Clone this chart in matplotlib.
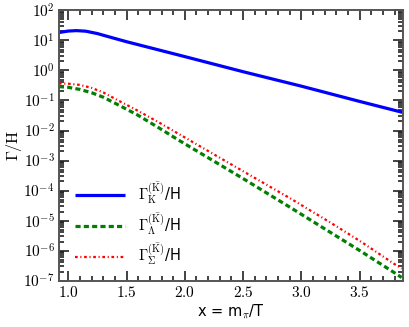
import numpy as np
import matplotlib.pyplot as plt
from matplotlib.ticker import MultipleLocator, LogLocator, FuncFormatter, NullFormatter

plt.rcParams["mathtext.fontset"] = "cm"
plt.rcParams["font.family"] = "DejaVu Sans"

# decay rates over Hubble rate
x_k = [0.92, 1.0, 1.07, 1.15, 1.25, 1.35, 1.5, 2.0, 2.5, 3.0, 3.5, 3.87]
gam_k = [18.4, 20.6, 21.3, 20.4, 17.0, 13.2, 9.1, 2.9, 0.91, 0.30, 0.093, 0.040]

x_hyp = [0.92, 1.0, 1.1, 1.2, 1.3, 1.44, 1.6, 1.786, 1.95, 2.25, 2.5, 2.9, 3.25, 3.5, 3.8, 3.86]
gam_lam = [0.29, 0.275, 0.234, 0.182, 0.129, 0.068, 0.032, 0.0117, 0.0047, 9.5e-4,
           2.5e-4, 2.8e-5, 4.0e-6, 1.0e-6, 1.8e-7, 1.26e-7]
gam_sig = [0.37, 0.363, 0.331, 0.263, 0.186, 0.095, 0.045, 0.0178, 0.0076, 1.6e-3,
           4.4e-4, 5.6e-5, 8.5e-6, 2.1e-6, 3.5e-7, 2.5e-7]

fig = plt.figure(figsize=(4.09, 3.27), dpi=100)
ax = fig.add_axes([0.144, 0.142, 0.841, 0.826])

ax.plot(x_k, gam_k, color="#0000ff", lw=2.3, solid_capstyle="butt",
        label=r"$\Gamma_{\rm K}^{(\bar{\rm K})}$/H")
ax.plot(x_hyp, gam_lam, color="#008000", lw=2.3, linestyle=(0, (1.6, 1.0)),
        label=r"$\Gamma_{\Lambda}^{(\bar{\rm K})}$/H")
ax.plot(x_hyp, gam_sig, color="#ff0000", lw=1.6, linestyle=(0, (1.2, 1.2, 0.5, 1.2)),
        label=r"$\Gamma_{\Sigma}^{(\bar{\rm K})}$/H")

ax.set_yscale("log")
ax.set_xlim(0.92, 3.87)
ax.set_ylim(1e-7, 1e2)

ax.xaxis.set_major_locator(MultipleLocator(0.5))
ax.xaxis.set_minor_locator(MultipleLocator(0.1))
ax.xaxis.set_major_formatter(FuncFormatter(lambda v, p: r"$\mathrm{%.1f}$" % v))
ax.yaxis.set_major_locator(LogLocator(base=10, numticks=20))
ax.yaxis.set_minor_locator(LogLocator(base=10, subs=np.arange(2, 10), numticks=20))
ax.yaxis.set_major_formatter(FuncFormatter(lambda v, p: r"$\mathrm{10}^{%d}$" % round(np.log10(v))))
ax.yaxis.set_minor_formatter(NullFormatter())

ax.tick_params(which="both", direction="in", top=True, right=True, width=1.2, color="#222222")
ax.tick_params(which="major", length=7, labelsize=11, pad=3)
ax.tick_params(which="minor", length=3.5)
for s in ax.spines.values():
    s.set_linewidth(1.4)
    s.set_color("#555555")

ax.set_xlabel(r"x = m$_\pi$/T", fontsize=10.5, labelpad=2)
ax.set_ylabel(r"$\Gamma/\mathrm{H}$", fontsize=11.5, va="center")
ax.yaxis.set_label_coords(-0.13, 0.5)

ax.legend(loc="lower left", bbox_to_anchor=(0.01, 0.0), frameon=False, fontsize=10.5,
          handlelength=3.4, labelspacing=0.35, handletextpad=0.9)

fig.savefig("out.png", dpi=100)
